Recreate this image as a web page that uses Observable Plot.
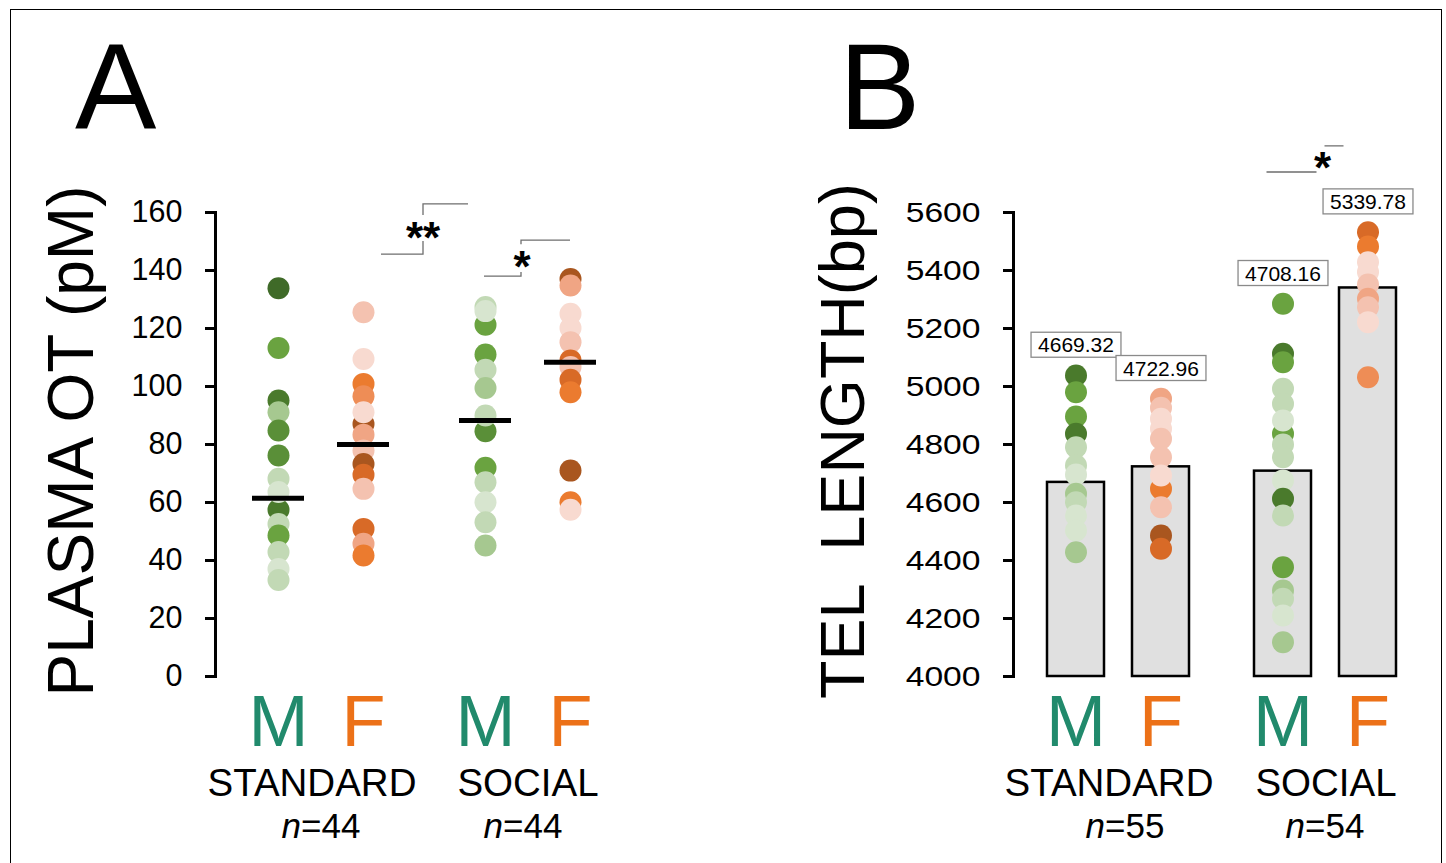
<!DOCTYPE html>
<html><head><meta charset="utf-8">
<script src="https://cdn.jsdelivr.net/npm/d3@7"></script>
<script src="https://cdn.jsdelivr.net/npm/@observablehq/plot@0.6"></script>
<style>
body{margin:0;background:#fff;}
#fig{position:relative;width:1446px;height:863px;overflow:hidden;background:#fff;}
#border{position:absolute;left:10px;top:9px;width:1432px;height:900px;border:1px solid #000;box-sizing:border-box;}
</style></head><body><div id="fig"><div id="border"></div></div>
<script>
// ---------- data ----------
const conditions = ["STANDARD", "SOCIAL"];
const sexes = ["M", "F"];
const nPanelA = [44, 44];
const nPanelB = [55, 54];
const otTicks = [0, 20, 40, 60, 80, 100, 120, 140, 160];
const telTicks = [4000, 4200, 4400, 4600, 4800, 5000, 5200, 5400, 5600];

// Panel A: plasma OT (pM), individual animals; tone = shade group of each dot
const otStandardM = [133.9, 113.3, 95.2, 91.1, 84.8, 76.2, 68.2, 57.5, 63.6, 52.6, 48.6, 42.9, 37.1, 33.3];
const otStandardMTone = [7, 4, 6, 3, 5, 5, 2, 6, 1, 2, 4, 2, 1, 2];
const otStandardF = [87.1, 125.6, 109.5, 100.9, 96.6, 91.1, 83.4, 77.9, 73.3, 69.6, 64.7, 50.9, 45.8, 41.7];
const otStandardFTone = [7, 2, 1, 5, 4, 1, 3, 2, 7, 6, 2, 6, 3, 5];
const otSocialM = [121.3, 127.4, 126.0, 111.0, 105.8, 99.5, 84.6, 90.0, 72.0, 67.0, 60.1, 53.2, 45.2];
const otSocialMTone = [4, 2, 1, 4, 2, 3, 5, 2, 4, 2, 1, 2, 3];
const otSocialF = [137.1, 134.8, 125.1, 120.2, 115.3, 109.0, 106.7, 102.3, 98.0, 71.0, 60.1, 57.5];
const otSocialFTone = [7, 3, 1, 1, 2, 6, 2, 6, 5, 7, 5, 1];
// group means shown as black lines: STANDARD M, STANDARD F, SOCIAL M, SOCIAL F
const otMeans = [61.5, 80.0, 88.3, 108.4];

// Panel B: telomere length (bp)
const telStandardM = [5037.9, 4980.3, 4896.6, 4836.8, 4790.7, 4727.6, 4696.6, 4630.0, 4601.0, 4555.2, 4503.4, 4428.6];
const telStandardMTone = [6, 4, 4, 6, 2, 2, 1, 3, 2, 1, 1, 3];
const telStandardF = [4957.6, 4926.6, 4888.6, 4854.1, 4819.7, 4756.3, 4647.2, 4693.1, 4583.8, 4486.2, 4440.3];
const telStandardFTone = [3, 2, 1, 1, 2, 2, 5, 1, 2, 7, 6];
const telSocialM = [5285.2, 5112.6, 5083.9, 4992.1, 4940.4, 4836.8, 4882.8, 4800.0, 4756.3, 4675.9, 4612.6, 4555.2, 4376.9, 4296.6, 4267.8, 4210.3, 4118.4];
const telSocialMTone = [4, 6, 4, 2, 2, 4, 1, 2, 2, 1, 6, 2, 4, 3, 2, 1, 3];
const telSocialF = [5532.2, 5482.8, 5428.7, 5394.3, 5351.7, 5302.5, 5273.6, 5221.9, 5032.2];
const telSocialFTone = [6, 5, 1, 1, 2, 3, 2, 1, 4];
const telMeans = [4669.32, 4722.96, 4708.16, 5339.78];

// ---------- styles ----------
const FONT = '"Liberation Sans", Arial, sans-serif';
const greens = ["#d7e5cf", "#c2d9b5", "#a6c890", "#6aa340", "#5a8f38", "#4a7a2c", "#3f6a28"];
const oranges = ["#f8dad0", "#f4c2b0", "#f0a584", "#ee8d56", "#eb7b2f", "#d86a27", "#a9561f"];
const shadeKeys = greens.map((c, i) => "M" + (i + 1)).concat(oranges.map((c, i) => "F" + (i + 1)));
const shadeColors = greens.concat(oranges);
const colorM = "#218a6c", colorF = "#ec7118";

// ---------- tables ----------
const groupKeys = [["STANDARD", "M"], ["STANDARD", "F"], ["SOCIAL", "M"], ["SOCIAL", "F"]];
function rows(groups) {
  const out = [];
  groups.forEach(([vals, tones], g) => vals.forEach((v, i) =>
    out.push({cond: groupKeys[g][0], sex: groupKeys[g][1], value: v, tone: tones[i]})));
  return out;
}
const otData = rows([[otStandardM, otStandardMTone], [otStandardF, otStandardFTone], [otSocialM, otSocialMTone], [otSocialF, otSocialFTone]]);
const telData = rows([[telStandardM, telStandardMTone], [telStandardF, telStandardFTone], [telSocialM, telSocialMTone], [telSocialF, telSocialFTone]]);
function summary(means, data) {
  return groupKeys.map(([cond, sex], g) => ({cond, sex, mean: means[g],
    top: d3.max(data.filter(d => d.cond === cond && d.sex === sex), d => d.value)}));
}
const otSummary = summary(otMeans, otData);
const telSummary = summary(telMeans, telData);
const cells = groupKeys.map(([cond, sex]) => ({cond, sex}));

// ---------- panels ----------
const FACET_W = 207, STEP = 85;
function makePanel(cfg) {
  const pi = 1 - cfg.bandwidth / STEP;
  const po = (FACET_W / STEP - 2 + pi) / 2;
  const align = (cfg.offset - cfg.bandwidth / 2) / (FACET_W - STEP * (2 - pi));
  const condMarks = conditions.map((c, i) =>
    Plot.text([c], {fx: d => d, text: d => d, frameAnchor: "bottom", lineAnchor: "bottom",
      dy: 119, dx: cfg.condDx[i], fontSize: 38.5, fill: "black"}));
  const nMarks = conditions.map((c, i) =>
    Plot.text([{cond: c, n: cfg.n[i]}], {fx: "cond", text: d => "n=" + d.n, frameAnchor: "bottom",
      lineAnchor: "bottom", dy: 161, dx: cfg.nDx[i], fontSize: 35, fill: "black", className: "nlab"}));
  return Plot.plot({
    width: cfg.width, height: 863,
    marginTop: 212, marginBottom: 187, marginLeft: 215, marginRight: cfg.width - 215 - 2 * FACET_W,
    style: {fontFamily: FONT, background: "transparent", overflow: "visible", color: "black"},
    fx: {domain: conditions, padding: 0, axis: null},
    x: {domain: sexes, paddingInner: pi, paddingOuter: po, align, axis: null},
    y: {domain: cfg.domain},
    color: {type: "ordinal", domain: shadeKeys, range: shadeColors},
    marks: [
      ...cfg.under,
      Plot.dot(cfg.data, {fx: "cond", x: "sex", y: "value", r: 11, fill: d => d.sex + d.tone}),
      ...cfg.over,
      Plot.frame({anchor: "left", strokeWidth: 3, facetAnchor: "left", stroke: "black"}),
      Plot.axisY({ticks: cfg.ticks, tickFormat: d => String(d), tickSize: 10, tickPadding: 23,
        fontSize: cfg.tickFont, strokeWidth: 3, label: null, stroke: "black", fill: "black"}),
      Plot.text(cells.filter(d => d.sex === "M"), {fx: "cond", x: "sex", text: "sex", frameAnchor: "bottom",
        lineAnchor: "bottom", dy: 69, fontSize: 72, fill: colorM}),
      Plot.text(cells.filter(d => d.sex === "F"), {fx: "cond", x: "sex", text: "sex", frameAnchor: "bottom",
        lineAnchor: "bottom", dy: 69, fontSize: 72, fill: colorF}),
      ...condMarks,
      ...nMarks
    ]
  });
}

const plotA = makePanel({
  width: 720, domain: [0, 160], ticks: otTicks, data: otData, bandwidth: 52, offset: 63, n: nPanelA,
  condDx: [-7, 2], nDx: [2, -3], tickFont: 30.5,
  under: [],
  over: [Plot.tickY(otSummary, {fx: "cond", x: "sex", y: "mean", stroke: "black", strokeWidth: 5})]
});
const plotB = makePanel({
  width: 648, domain: [4000, 5600], ticks: telTicks, data: telData, bandwidth: 56.5, offset: 62, n: nPanelB,
  condDx: [-8, 2], nDx: [8, 1], tickFont: 28.5,
  under: [Plot.barY(telSummary, {fx: "cond", x: "sex", y1: 4000, y2: "mean", fill: "#e0e0e0",
    stroke: "black", strokeWidth: 2.5})],
  over: [Plot.text(telSummary, {fx: "cond", x: "sex", y: "top", dy: -30, text: d => d.mean.toFixed(2),
    fontSize: 21, fill: "black", className: "vlab"})]
});

const fig = document.getElementById("fig");
plotA.style.position = "absolute"; plotA.style.left = "0px"; plotA.style.top = "0px";
plotB.style.position = "absolute"; plotB.style.left = "798px"; plotB.style.top = "0px";
fig.appendChild(plotA); fig.appendChild(plotB);

// ---------- post-processing ----------
[plotA, plotB].forEach(p => {
  d3.select(p).selectAll("g.nlab text").each(function () {
    const t = this.textContent; this.textContent = "";
    d3.select(this).append("tspan").attr("font-style", "italic").text(t.slice(0, 1));
    d3.select(this).append("tspan").text(t.slice(1));
  });
});
// panel B tick labels are horizontally stretched in the original (scale about each label's anchor)
d3.select(plotB).selectAll('g[aria-label="y-axis tick label"] text').each(function () {
  const tr = this.getAttribute("transform");
  if (tr) {
    this.setAttribute("transform", tr + " scale(1.18,1)");
  } else {
    const x = parseFloat(this.getAttribute("x")) || 0;
    this.setAttribute("transform", `translate(${x},0) scale(1.18,1) translate(${-x},0)`);
  }
});
d3.select(plotB).selectAll("g.vlab text").each(function () {
  const b = this.getBBox();
  const r = d3.select(this.parentNode).insert("rect", () => this)
    .attr("x", b.x - 7).attr("y", b.y - 1).attr("width", b.width + 14).attr("height", b.height + 2)
    .attr("fill", "white").attr("stroke", "#8a8a8a").attr("stroke-width", 1.3);
  if (this.getAttribute("transform")) r.attr("transform", this.getAttribute("transform"));
});

function colX(p, cond, sex) {
  const fx = p.scale("fx"), x = p.scale("x");
  return fx.apply(cond) + (x.apply(sex) - x.range[0]) + x.bandwidth / 2;
}
function annotate(p, letter, letterX, title, titleX, titleSize) {
  const s = d3.select(p).append("g").attr("font-family", FONT).attr("fill", "black");
  s.append("text").attr("x", letterX).attr("y", 129).attr("font-size", 122)
    .attr("text-anchor", "start").text(letter);
  s.append("text").attr("transform", `translate(${titleX},441) rotate(-90)`).attr("text-anchor", "middle")
    .attr("font-size", titleSize).style("white-space", "pre").text(title);
  return s;
}
const STAR_SHIFT = 21;
function bracket(s, xa, xm, xb, yLow, yHigh, vLow, vHigh, label, sx, sy) {
  s.append("path").attr("fill", "none").attr("stroke", "#6e6e6e").attr("stroke-width", 1.3)
    .attr("d", `M${xa},${yLow}H${xm}V${yLow - vLow}M${xm},${yHigh + vHigh}V${yHigh}H${xb}`);
  s.append("text").attr("x", sx).attr("y", sy + STAR_SHIFT).attr("text-anchor", "middle")
    .attr("font-size", 44).attr("font-weight", "bold").text(label);
}
const gA = annotate(plotA, "A", 75, "PLASMA OT (pM)", 93, 64);
const yA = plotA.scale("y");
{
  const xm = plotA.scale("fx").apply("SOCIAL") + 1;
  bracket(gA, colX(plotA, "STANDARD", "F") + 18, xm, colX(plotA, "SOCIAL", "M") - 17,
    yA.apply(145.5), yA.apply(162.8), 13, 11, "**", xm, 232);
  const xm2 = colX(plotA, "SOCIAL", "M") + 36;
  bracket(gA, colX(plotA, "SOCIAL", "M") - 1, xm2, colX(plotA, "SOCIAL", "F"),
    yA.apply(137.9), yA.apply(150.3), 4, 4, "*", xm2 + 1, 261);
}
const gB = annotate(plotB, "B", 41, "TEL  LENGTH(bp)", 66, 63);
const yB = plotB.scale("y");
{
  const xc = colX(plotB, "SOCIAL", "M");
  gB.append("path").attr("fill", "none").attr("stroke", "#6e6e6e").attr("stroke-width", 1.3)
    .attr("d", `M${xc - 16},${yB.apply(5738)}H${xc + 34}M${xc + 42},${yB.apply(5828)}H${xc + 61}`);
  gB.append("text").attr("x", xc + 40).attr("y", 162 + STAR_SHIFT).attr("text-anchor", "middle")
    .attr("font-size", 44).attr("font-weight", "bold").text("*");
}
</script></body></html>
